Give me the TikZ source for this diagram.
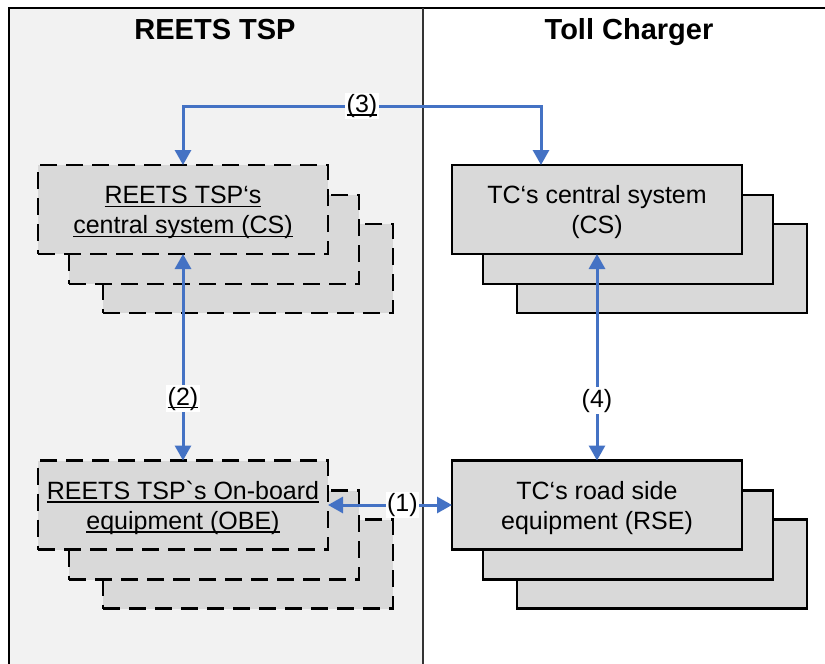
\documentclass[tikz,border=0pt]{standalone}
\usepackage{fontspec}
\newfontfamily\arialfont{Liberation Sans}
\usetikzlibrary{arrows.meta}
\definecolor{panelgray}{HTML}{F2F2F2}
\definecolor{boxgray}{HTML}{D9D9D9}
\definecolor{linkblue}{HTML}{4472C4}
% underline drawn at a fixed depth under the baseline
\newcommand\ulbox[1]{\setbox0\hbox{#1}\rlap{\rule[-3.2pt]{\wd0}{1.3pt}}\box0}
% strut that pushes two-line box texts slightly down
\newcommand\topstrut{\rule{0pt}{24pt}}
\tikzset{
  box/.style={rectangle, minimum width=290pt, minimum height=89pt,
    inner sep=0pt, outer sep=0pt, fill=boxgray, draw=black,
    line width=2.3pt, align=center,
    font=\arialfont\fontsize{25}{30}\selectfont},
  tspbox/.style={box, dash pattern=on 17pt off 9pt},
  link/.style={draw=linkblue, line width=3pt,
    {Triangle[width=16pt,length=15pt]}-{Triangle[width=16pt,length=15pt]}},
  lbl/.style={fill=white, inner sep=1.5pt, text=black,
    font=\arialfont\fontsize{25}{30}\selectfont},
  paneltitle/.style={anchor=base, font=\arialfont\bfseries\fontsize{29}{34}\selectfont},
  frame/.style={line width=1.4pt, draw=black}
}
\begin{document}
\begin{tikzpicture}[x=1pt, y=-1pt]
\useasboundingbox (0,0) rectangle (825,664);
% panels
\fill[panelgray] (9,8) rectangle (423,664);
\draw[frame] (9,664) -- (9,8) -- (825,8);
\draw[frame, draw=black!80] (423,8) -- (423,664);
\node[paneltitle] (ttsp) at (215,39) {REETS TSP};
\node[paneltitle] (tcharger) at (629,39) {Toll Charger};

% REETS TSP central system stack
\node[tspbox] (lcsC) at (248,268.5) {};
\node[tspbox] (lcsB) at (214,239.5) {};
\node[tspbox] (lcs) at (183,209.5) {\topstrut\ulbox{REETS TSP‘s}\\\ulbox{central system (CS)}};

% REETS TSP on-board equipment stack
\node[tspbox] (obeC) at (248,564) {};
\node[tspbox] (obeB) at (214,535) {};
\node[tspbox] (obe) at (183,505) {\topstrut\ulbox{REETS TSP`s On-board}\\\ulbox{equipment (OBE)}};

% Toll charger central system stack
\node[box] (rcsC) at (662,268.5) {};
\node[box] (rcsB) at (628,239.5) {};
\node[box] (rcs) at (597,209.5) {\topstrut TC‘s central system\\(CS)};

% Toll charger road side equipment stack
\node[box] (rseC) at (662,564) {};
\node[box] (rseB) at (628,535) {};
\node[box] (rse) at (597,505) {\topstrut TC‘s road side\\equipment (RSE)};

% interfaces
\coordinate (c3) at (541,106);
\draw[link] (lcs.north) |- (c3) node[lbl, pos=0.75] {\ulbox{(3)}} -- (c3 |- rcs.north);
\draw[link] (lcs.south) -- node[lbl, pos=0.7] {\ulbox{(2)}} (obe.north);
\draw[link] (obe.east) -- node[lbl, pos=0.6] {(1)} (rse.west);
\draw[link] (rcs.south) -- node[lbl, pos=0.71] {(4)} (rse.north);
\end{tikzpicture}
\end{document}
